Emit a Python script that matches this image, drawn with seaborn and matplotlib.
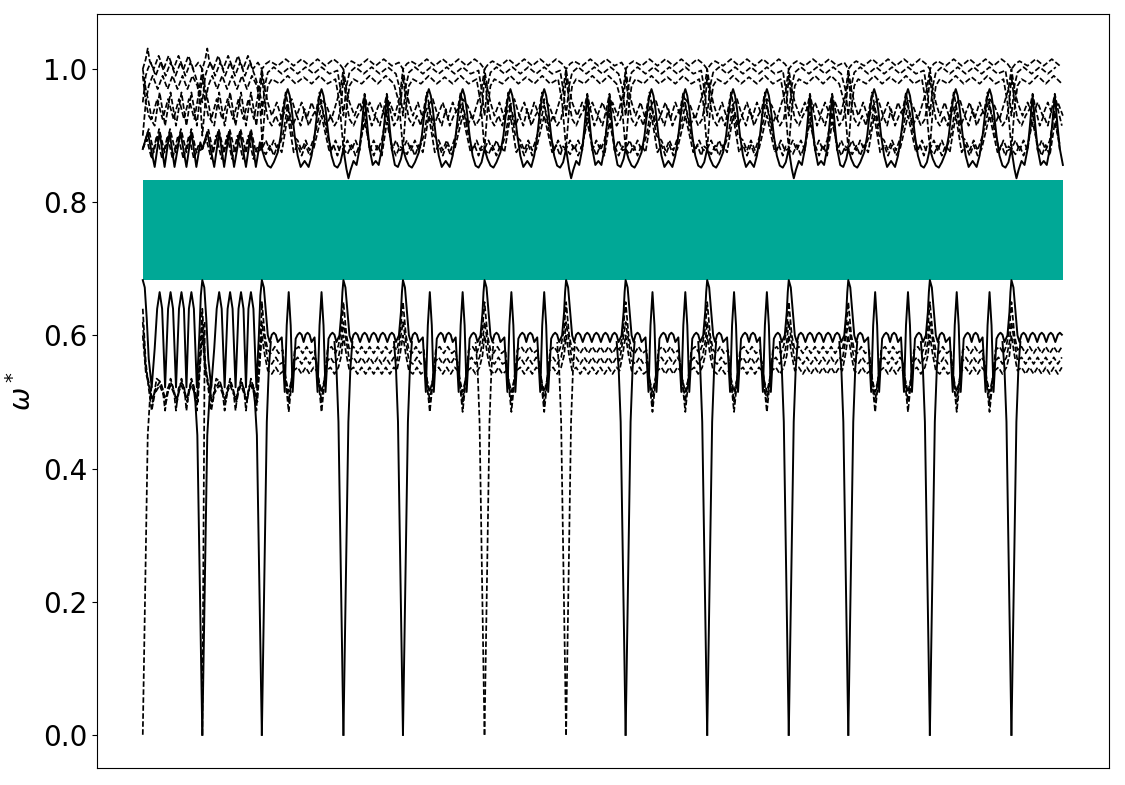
import numpy as np
import pandas as pd
import seaborn as sns
import matplotlib.pyplot as plt

## k-path: kind of each leg ('F' fine, 'S' spiked long leg, 'R' ripple leg) and its length
seg_kind = ['F', 'F', 'S', 'R', 'S', 'S', 'R', 'S', 'S', 'R', 'S', 'S', 'R']
seg_len = [1, 1, 1.37, 1, 1.37, 1.37, 1, 1.37, 1.37, 1, 1.37, 1.37, 1]
k_end = 15.46
tmpl_len = {'F': 60, 'S': 82, 'R': 59}   # template offsets are read in these units
arm_unit = 60.0

gap_lo, gap_hi = 0.683, 0.833

## lower group (below the gap)
lo_solid_F_x = [0, 2, 4, 6, 9, 12, 14.5, 17, 19.5, 22.5, 25.5, 28, 30.5, 33.5, 36.5, 39, 41.5, 44, 46.5, 49, 51.5, 54.5, 57, 58.5, 60]
lo_solid_F_y = [.683, .672, .625, .565, .522, .58, .64, .665, .64, .522, .64, .665, .64, .522, .64, .665, .64, .522, .64, .665, .64, .522, .6, .66, .683]
lo_solid_S_x = [0, 2, 4, 6, 8, 10, 12, 14, 16, 20, 23, 25, 27, 29, 31, 34, 36, 38, 40, 42, 44, 46, 48, 50, 53, 56, 58, 60, 62, 64, 67, 69, 71, 73, 75, 78, 80, 81, 82]
lo_solid_S_y = [.683, .672, .635, .60, .59, .601, .604, .601, .59, .597, .515, .615, .665, .615, .515, .595, .601, .604, .601, .59, .601, .604, .601, .59, .597, .515, .615, .665, .615, .515, .595, .601, .604, .601, .59, .60, .635, .665, .683]
lo_solid_R_x = [0, 2, 4, 6, 8, 10, 12, 14, 16.5, 19, 21, 23, 25.5, 28, 30, 32, 34.5, 37, 39, 41, 43.5, 46, 48, 50, 52, 55, 57, 58, 59]
lo_solid_R_y = [.683, .672, .635, .60, .59, .601, .604, .601, .59, .601, .604, .601, .59, .601, .604, .601, .59, .601, .604, .601, .59, .601, .604, .601, .59, .60, .635, .665, .683]

lo_d1_F_x = [0, 3, 6, 9, 13, 17, 20, 22.5, 25, 28, 31, 33.5, 36, 39, 42, 44, 46.5, 49, 52, 54.5, 57, 60]
lo_d1_F_y = [.64, .56, .52, .487, .52, .53, .52, .487, .52, .53, .52, .487, .52, .53, .52, .487, .52, .53, .52, .487, .56, .64]
lo_d1_S_x = [0, 3, 6, 9, 13, 17, 21, 24, 27, 30, 33, 37, 41, 45, 49, 53, 57, 60, 63, 66, 70, 74, 77, 80, 82]
lo_d1_S_y = [.65, .60, .578, .573, .583, .573, .578, .53, .485, .53, .578, .583, .573, .583, .573, .578, .53, .485, .53, .578, .583, .573, .585, .61, .65]
lo_d1_R_x = [0, 3, 6, 10, 14, 18, 22, 26, 30, 34, 38, 42, 46, 50, 53, 56, 59]
lo_d1_R_y = [.65, .60, .578, .583, .573, .583, .573, .583, .573, .583, .573, .583, .573, .583, .578, .60, .65]

lo_d2_F_x = [0, 3, 6, 10, 14, 18, 23.5, 28, 34.5, 39, 45, 49, 55.5, 58, 60]
lo_d2_F_y = [.62, .55, .53, .50, .535, .53, .50, .535, .50, .535, .50, .535, .50, .56, .62]
lo_d2_S_x = [0, 3, 6, 10, 14, 18, 22, 27, 32, 36, 40, 44, 48, 52, 55, 60, 65, 69, 73, 77, 80, 82]
lo_d2_S_y = [.62, .59, .562, .557, .567, .557, .56, .50, .56, .567, .557, .567, .557, .567, .56, .50, .56, .567, .557, .567, .59, .62]
lo_d2_R_x = [0, 3, 6, 10, 14, 18, 22, 26, 30, 34, 38, 42, 46, 50, 53, 56, 59]
lo_d2_R_y = [.62, .59, .562, .567, .557, .567, .557, .567, .557, .567, .557, .567, .557, .567, .562, .59, .62]

lo_d3_F_x = [0, 3, 6, 9, 17, 22.5, 28, 33.5, 39, 44, 49, 54.5, 57, 60]
lo_d3_F_y = [.60, .545, .525, .505, .525, .505, .525, .505, .525, .505, .525, .505, .545, .60]
lo_d3_S_x = [0, 3, 6, 10, 14, 18, 22, 27, 32, 36, 40, 44, 48, 52, 55, 60, 65, 69, 73, 77, 80, 82]
lo_d3_S_y = [.60, .57, .547, .542, .552, .542, .547, .515, .547, .552, .542, .552, .542, .552, .547, .515, .547, .552, .542, .552, .57, .60]
lo_d3_R_x = [0, 3, 6, 10, 14, 18, 22, 26, 30, 34, 38, 42, 46, 50, 53, 56, 59]
lo_d3_R_y = [.60, .57, .547, .552, .542, .552, .542, .552, .542, .552, .542, .552, .542, .552, .547, .57, .60]

## acoustic branches leaving each Gamma point
arm_x = [0, 5, 7, 9]
arm_y = [0, .47, .55, .59]
arm_F_y = [0, .45, .50, .525]
steep_x = [0, 2.5]
steep_y = [0, .62]
dashed_arm_nodes = [0, 5, 6]
steep_nodes = [1]

## upper group (above the gap)
up_solid_F_x = [0, 5, 12, 17, 22, 27, 32, 38, 44, 49, 54, 58, 60]
up_solid_F_y = [.88, .905, .853, .905, .853, .905, .853, .905, .853, .905, .853, .89, .88]
up_solid_S_x = [0, 3, 6, 9, 12, 16, 19, 22, 24, 26, 28, 30, 33, 36, 39, 43, 47, 50, 53, 56, 58, 60, 62, 64, 67, 70, 73, 76, 79, 82]
up_solid_S_y = [.88, .865, .855, .852, .86, .875, .90, .94, .96, .97, .96, .94, .90, .87, .853, .862, .853, .87, .90, .94, .96, .97, .96, .94, .90, .87, .855, .852, .86, .88]
up_solid_R_x = [0, 3, 5, 7, 10, 13, 16, 18, 21, 24, 26, 29, 32, 35, 38, 40, 43, 46, 48, 51, 54, 57, 59]
up_solid_R_y = [.88, .85, .836, .848, .862, .856, .88, .91, .96, .91, .88, .856, .862, .856, .88, .91, .96, .91, .88, .856, .853, .865, .88]

up_m1_F_x = [0, 3, 6, 12, 17, 22.5, 28, 33.5, 39, 44, 49, 54.5, 57, 60]
up_m1_F_y = [.99, .95, .93, .915, .965, .915, .965, .915, .965, .915, .965, .915, .95, .99]
up_m1_S_x = [0, 3, 6, 10, 14, 18, 21, 24, 27, 31, 35, 39, 43, 47, 51, 55, 58, 61, 65, 69, 73, 77, 80, 82]
up_m1_S_y = [.99, .95, .925, .915, .93, .915, .94, .965, .94, .915, .93, .915, .94, .915, .93, .94, .965, .94, .915, .93, .915, .925, .95, .99]
up_m1_R_x = [0, 3, 6, 10, 14, 18, 21, 24, 28, 32, 36, 40, 43, 46, 50, 54, 57, 59]
up_m1_R_y = [.99, .95, .925, .915, .93, .94, .963, .94, .915, .93, .915, .94, .963, .94, .915, .925, .95, .99]

up_m2_F_x = [0, 3, 6, 9, 14.5, 20, 25.5, 31, 36.5, 41.5, 46.5, 52, 56, 60]
up_m2_F_y = [1.0, .97, .95, .925, .955, .925, .955, .925, .955, .925, .955, .925, .96, 1.0]
up_m2_S_x = [0, 3, 6, 10, 15, 20, 25, 30, 35, 40, 45, 50, 55, 60, 65, 70, 75, 79, 82]
up_m2_S_y = [1.0, .97, .95, .93, .95, .925, .945, .955, .93, .95, .925, .95, .93, .955, .945, .925, .95, .97, 1.0]
up_m2_R_x = [0, 3, 6, 11, 16, 21, 26, 31, 36, 41, 46, 51, 56, 59]
up_m2_R_y = [1.0, .97, .95, .93, .95, .93, .95, .93, .95, .93, .95, .93, .96, 1.0]

up_l1_F_x = [0, 4, 9, 14, 19.5, 25, 30, 35.5, 41, 46.5, 51.5, 56, 60]
up_l1_F_y = [.88, .895, .865, .9, .865, .9, .865, .9, .865, .9, .865, .885, .88]
up_l1_S_x = [0, 4, 8, 12, 16, 20, 26, 32, 36, 40, 44, 48, 52, 60, 68, 72, 76, 79, 82]
up_l1_S_y = [.88, .872, .885, .87, .886, .875, .93, .875, .886, .87, .886, .87, .88, .93, .875, .886, .87, .884, .88]
up_l1_R_x = [0, 4, 8, 12, 16, 21, 26, 30, 34, 38, 43, 48, 52, 56, 59]
up_l1_R_y = [.88, .872, .886, .87, .886, .92, .886, .87, .886, .87, .92, .886, .87, .884, .88]

up_l2_F_x = [0, 6, 11, 16.5, 22, 27.5, 33, 38.5, 44, 49, 54, 60]
up_l2_F_y = [.88, .91, .875, .91, .875, .91, .875, .91, .875, .91, .875, .88]
up_l2_S_x = [0, 4, 8, 12, 16, 21, 26, 31, 36, 40, 44, 48, 53, 60, 66, 70, 74, 78, 82]
up_l2_S_y = [.88, .893, .878, .893, .878, .9, .945, .9, .893, .878, .893, .878, .9, .945, .9, .878, .893, .878, .88]
up_l2_R_x = [0, 4, 8, 12, 16, 21, 26, 30, 34, 38, 43, 48, 52, 56, 59]
up_l2_R_y = [.88, .893, .878, .893, .878, .935, .878, .893, .878, .893, .935, .878, .893, .878, .88]

up_t1_F_x = [0, 3, 6, 10, 15, 20, 25, 30, 35, 40, 45, 50, 55, 58, 60]
up_t1_F_y = [.90, .95, .975, .99, .97, .99, .97, .99, .97, .99, .97, .99, .975, .95, .90]
up_t1_S_x = [0, 3, 6, 10, 18, 26, 34, 42, 50, 58, 66, 74, 78, 82]
up_t1_S_y = [.88, .94, .975, .985, .978, .99, .978, .988, .978, .99, .978, .985, .95, .88]
up_t1_R_x = [0, 3, 6, 10, 18, 26, 34, 42, 50, 55, 59]
up_t1_R_y = [.88, .94, .975, .985, .978, .99, .978, .99, .978, .95, .88]

up_t2_F_x = [0, 3, 5, 8, 13, 18, 23, 28, 33, 38, 43, 48, 53, 57, 60]
up_t2_F_y = [.95, .99, 1.0, 1.01, .99, 1.01, .99, 1.01, .99, 1.01, .99, 1.01, .99, .97, .95]
up_t2_S_x = [0, 3, 6, 12, 20, 28, 36, 44, 52, 60, 68, 76, 79, 82]
up_t2_S_y = [.93, .975, .995, 1.003, .993, 1.003, .993, 1.003, .993, 1.003, .993, .998, .97, .93]
up_t2_R_x = [0, 3, 6, 12, 20, 28, 36, 44, 52, 56, 59]
up_t2_R_y = [.93, .975, .995, 1.003, .993, 1.003, .993, 1.003, .993, .97, .93]

up_t3_F_x = [0, 3, 5, 7, 11, 16, 21, 26, 31, 36, 41, 46, 51, 56, 60]
up_t3_F_y = [1.0, 1.015, 1.031, 1.012, 1.0, 1.02, 1.0, 1.02, 1.0, 1.02, 1.0, 1.02, 1.0, 1.01, 1.0]
up_t3_S_x = [0, 4, 8, 16, 24, 32, 40, 48, 56, 64, 72, 78, 82]
up_t3_S_y = [1.0, 1.008, 1.012, 1.005, 1.015, 1.005, 1.015, 1.005, 1.015, 1.005, 1.015, 1.008, 1.0]
up_t3_R_x = [0, 4, 8, 16, 24, 32, 40, 48, 55, 59]
up_t3_R_y = [1.0, 1.008, 1.012, 1.005, 1.015, 1.005, 1.015, 1.005, 1.01, 1.0]


def tmpl(F, S, R):
    return {'F': F, 'S': S, 'R': R}


bands = [
    ('lo_solid', 'solid', tmpl((lo_solid_F_x, lo_solid_F_y), (lo_solid_S_x, lo_solid_S_y), (lo_solid_R_x, lo_solid_R_y))),
    ('lo_d1', 'dashed', tmpl((lo_d1_F_x, lo_d1_F_y), (lo_d1_S_x, lo_d1_S_y), (lo_d1_R_x, lo_d1_R_y))),
    ('lo_d2', 'dashed', tmpl((lo_d2_F_x, lo_d2_F_y), (lo_d2_S_x, lo_d2_S_y), (lo_d2_R_x, lo_d2_R_y))),
    ('lo_d3', 'dashed', tmpl((lo_d3_F_x, lo_d3_F_y), (lo_d3_S_x, lo_d3_S_y), (lo_d3_R_x, lo_d3_R_y))),
    ('up_solid', 'solid', tmpl((up_solid_F_x, up_solid_F_y), (up_solid_S_x, up_solid_S_y), (up_solid_R_x, up_solid_R_y))),
    ('up_m1', 'dashed', tmpl((up_m1_F_x, up_m1_F_y), (up_m1_S_x, up_m1_S_y), (up_m1_R_x, up_m1_R_y))),
    ('up_m2', 'dashed', tmpl((up_m2_F_x, up_m2_F_y), (up_m2_S_x, up_m2_S_y), (up_m2_R_x, up_m2_R_y))),
    ('up_l1', 'dashed', tmpl((up_l1_F_x, up_l1_F_y), (up_l1_S_x, up_l1_S_y), (up_l1_R_x, up_l1_R_y))),
    ('up_l2', 'dashed', tmpl((up_l2_F_x, up_l2_F_y), (up_l2_S_x, up_l2_S_y), (up_l2_R_x, up_l2_R_y))),
    ('up_t1', 'dashed', tmpl((up_t1_F_x, up_t1_F_y), (up_t1_S_x, up_t1_S_y), (up_t1_R_x, up_t1_R_y))),
    ('up_t2', 'dashed', tmpl((up_t2_F_x, up_t2_F_y), (up_t2_S_x, up_t2_S_y), (up_t2_R_x, up_t2_R_y))),
    ('up_t3', 'dashed', tmpl((up_t3_F_x, up_t3_F_y), (up_t3_S_x, up_t3_S_y), (up_t3_R_x, up_t3_R_y))),
]

nodes = np.concatenate([[0], np.cumsum(seg_len)])

rows = []
for name, style, parts in bands:
    for i, kind in enumerate(seg_kind):
        xs, ys = parts[kind]
        for x, y in zip(xs, ys):
            k = nodes[i] + x / tmpl_len[kind] * seg_len[i]
            if k <= k_end + 1e-9:
                rows.append((name, k, y, style))

# acoustic arms going to zero at every Gamma point
for g in range(0, len(seg_kind)):
    style = 'dashed' if g in dashed_arm_nodes else 'solid'
    sides = [1] if g == 0 else [-1, 1]
    for side in sides:
        kind = seg_kind[g] if side > 0 else seg_kind[g - 1]
        ys = arm_F_y if kind == 'F' else arm_y
        for x, y in zip(arm_x, ys):
            rows.append((f'arm{g}{side}', nodes[g] + side * x / arm_unit, y, style))
for g in steep_nodes:
    for x, y in zip(steep_x, steep_y):
        rows.append((f'steep{g}', nodes[g] + x / arm_unit, y, 'dashed'))

df = pd.DataFrame(rows, columns=['band', 'k', 'omega', 'style'])

fig = plt.figure(figsize=(11.25, 7.85), dpi=100)
ax = fig.add_axes([0.086, 0.022, 0.9, 0.96])

ax.fill_between([0, k_end], gap_lo, gap_hi, color='#00a896', lw=0, zorder=1)

sns.lineplot(data=df[df['style'] == 'solid'], x='k', y='omega', units='band',
             estimator=None, sort=False, color='black', lw=1.4, ax=ax, zorder=3)
sns.lineplot(data=df[df['style'] == 'dashed'], x='k', y='omega', units='band',
             estimator=None, sort=False, color='black', lw=1.25,
             linestyle=(0, (3.2, 1.4)), ax=ax, zorder=2)

ax.set_xlim(-0.05 * k_end, 1.05 * k_end)
ax.set_ylim(-0.0495, 1.0826)
ax.set_xticks([])
ax.set_yticks([0.0, 0.2, 0.4, 0.6, 0.8, 1.0])
ax.tick_params(axis='y', labelsize=20)
ax.set_xlabel('')
ax.set_ylabel(r'$\omega^*$', fontsize=20)

plt.savefig('out.png', dpi=100)
